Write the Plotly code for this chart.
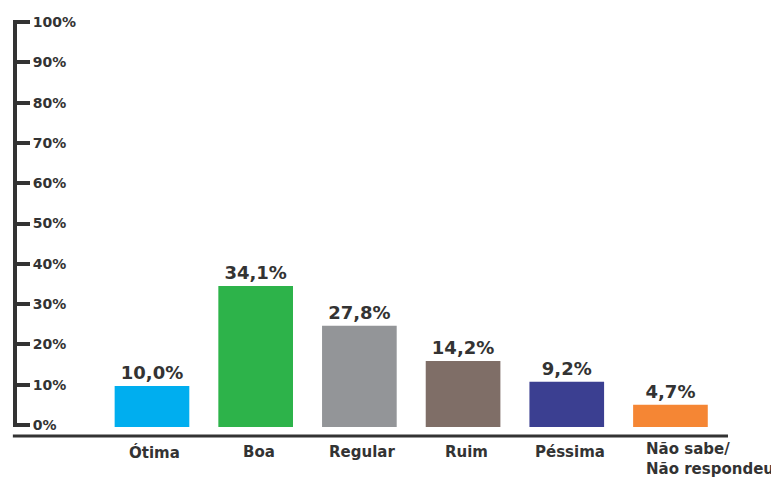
import plotly.graph_objects as go

categories = ["Ótima", "Boa", "Regular", "Ruim", "Péssima", "Não sabe/<br>Não respondeu"]
values = [10.0, 34.1, 27.8, 14.2, 9.2, 4.7]            # printed labels
bar_heights = [10.2, 35.0, 25.1, 16.4, 11.2, 5.5]      # heights as drawn in the picture
colors = ["#00AEEF", "#2DB34A", "#939598", "#7F6E67", "#3B3F91", "#F58634"]
y_ticks = [0, 10, 20, 30, 40, 50, 60, 70, 80, 90, 100]

TEXT = "#333333"
FONT = "DejaVu Sans"

x_idx = list(range(len(categories)))
labels = [f"{v:.1f}%".replace(".", ",") for v in values]

fig = go.Figure()
fig.add_trace(go.Bar(
    x=x_idx, y=bar_heights, base=-0.5,
    marker=dict(color=colors, line=dict(width=0)),
    width=0.72,
    text=labels, textposition="outside",
    textfont=dict(family=FONT, size=18, color=TEXT, weight="bold"),
    cliponaxis=False,
    hoverinfo="skip",
))

# category labels
for i, c in enumerate(categories):
    multi = "<br>" in c
    fig.add_annotation(
        x=i, y=0, xref="x", yref="paper",
        text="<b>" + c.replace("<br>", "</b><br><b>") + "</b>", showarrow=False,
        xanchor="left" if multi else "center",
        yanchor="top" if multi else "middle", align="left",
        xshift=-26 if multi else 3, yshift=-11 if multi else -25,
        font=dict(family=FONT, size=15, color=TEXT),
    )

# horizontal base line
fig.add_shape(type="line", xref="paper", yref="paper",
              x0=-0.003, x1=1.0, y0=-0.022, y1=-0.022,
              line=dict(color=TEXT, width=3))

# page body has an 8px margin: figure occupies 771x470 of the 779x478 window
fig.update_layout(
    width=771, height=470,
    margin=dict(l=7, r=51, t=12, b=51, autoexpand=False),
    paper_bgcolor="white", plot_bgcolor="white",
    showlegend=False,
    xaxis=dict(range=[-1.321, 5.555], showticklabels=False, showgrid=False,
               zeroline=False, showline=False, ticks="", automargin=False),
    yaxis=dict(range=[-0.5, 100.5], tickvals=y_ticks,
               ticktext=[f"{t}%" for t in y_ticks],
               side="right", anchor="free", position=0, automargin=False,
               showgrid=False, zeroline=False,
               showline=True, linecolor=TEXT, linewidth=4,
               ticks="outside", ticklen=13, tickwidth=4, tickcolor=TEXT,
               tickfont=dict(family=FONT, size=14, color=TEXT, weight="bold")),
)

fig.write_html("out.html")
